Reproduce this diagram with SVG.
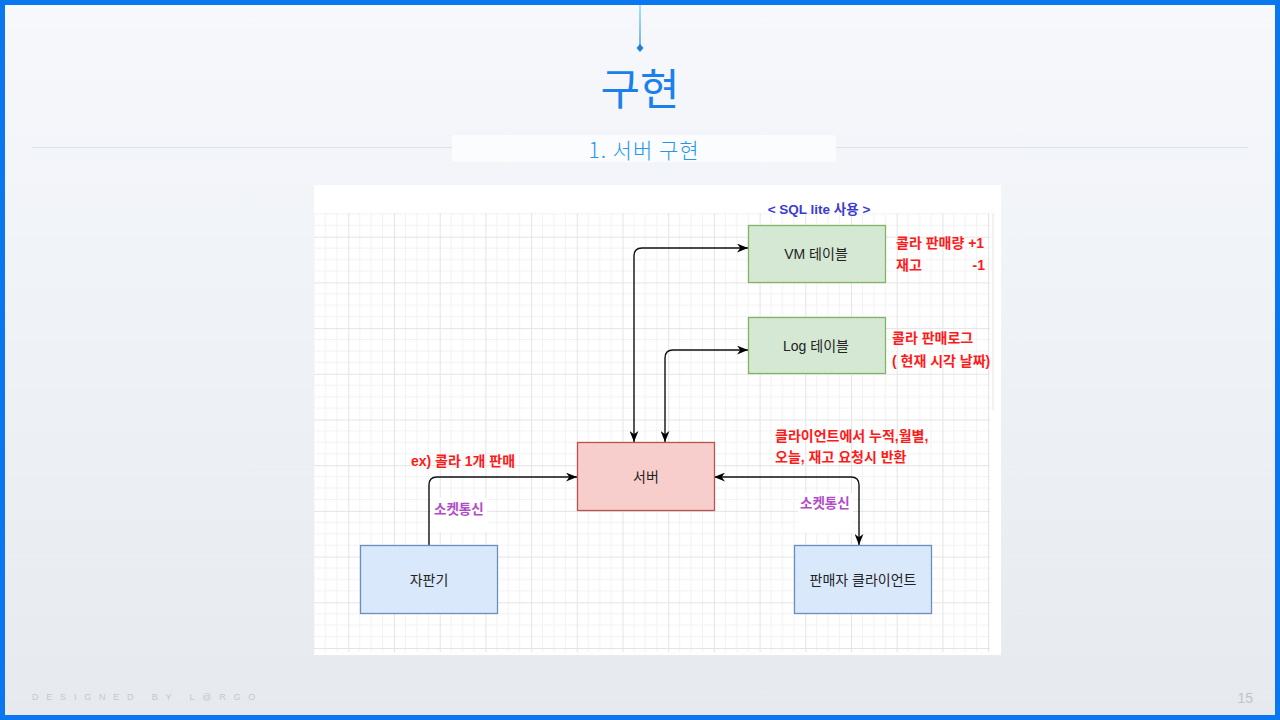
<svg xmlns="http://www.w3.org/2000/svg" width="1280" height="720" viewBox="0 0 1280 720">
<defs>
<linearGradient id="bg" x1="0" y1="0" x2="0" y2="1">
<stop offset="0" stop-color="#f6f8fc"/>
<stop offset="1" stop-color="#e6eaee"/>
</linearGradient>
<linearGradient id="vline" gradientUnits="userSpaceOnUse" x1="640" y1="5" x2="640" y2="48">
<stop offset="0" stop-color="#7cd0ff"/>
<stop offset="1" stop-color="#1a80e8"/>
</linearGradient>
<pattern id="grid" patternUnits="userSpaceOnUse" x="348.3" y="236.7" width="45.7" height="45.7">
<path d="M11.425,0V45.7M22.85,0V45.7M34.275,0V45.7M0,11.425H45.7M0,22.85H45.7M0,34.275H45.7" stroke="#f2f2f2" stroke-width="1" fill="none"/>
<path d="M0.5,0V45.7M0,0.5H45.7" stroke="#e4e4e4" stroke-width="1" fill="none"/>
</pattern>
<marker id="arr" viewBox="0 0 10 8" refX="10" refY="4" markerWidth="11" markerHeight="9" markerUnits="userSpaceOnUse" orient="auto-start-reverse">
<path d="M0,0 L10,4 L0,8 L3,4 Z" fill="#000"/>
</marker>
</defs>
<style>
.k{font-family:"Liberation Sans","Noto Sans CJK KR",sans-serif}
.node{font-size:14px;fill:#222;text-anchor:middle}
.red{font-size:14px;font-weight:bold;fill:#ff1a1a}
.pur{font-size:13.5px;font-weight:bold;fill:#b14bc8}
.conn{fill:none;stroke:#111;stroke-width:1.4}
</style>
<rect x="0" y="0" width="1280" height="720" fill="url(#bg)"/>
<rect x="2.5" y="2.5" width="1275" height="715" fill="none" stroke="#0a77f0" stroke-width="5"/>
<g id="header">
<rect x="639.4" y="5" width="1.2" height="42" fill="url(#vline)"/>
<path d="M640,44 L643.5,48 L640,52 L636.5,48 Z" fill="#1a80e8"/>
<text x="640" y="105" text-anchor="middle" font-family="'Noto Sans CJK KR',sans-serif" font-size="43" fill="#1a80ec">구현</text>
<line x1="32" y1="147.5" x2="1248" y2="147.5" stroke="#dde1e6" stroke-width="1"/>
<rect x="452" y="135" width="384" height="27" rx="3" fill="#fbfcfd"/>
<text x="644" y="158" text-anchor="middle" font-family="'Noto Sans CJK KR',sans-serif" font-weight="300" font-size="21" letter-spacing="1" fill="#2496f0">1. 서버 구현</text>
</g>
<g id="canvas">
<rect x="314" y="185" width="687" height="470" fill="#ffffff"/>
<rect x="314" y="213" width="676" height="439" fill="url(#grid)"/>
<line x1="993" y1="213" x2="993" y2="410" stroke="#e4e4e4" stroke-width="1"/>
</g>
<g id="connectors">
<path class="conn" d="M634,442 V256 Q634,248 642,248 H748" marker-start="url(#arr)" marker-end="url(#arr)"/>
<path class="conn" d="M665,442 V358 Q665,350 673,350 H748" marker-start="url(#arr)" marker-end="url(#arr)"/>
<path class="conn" d="M429,545 V485 Q429,477 437,477 H577" marker-end="url(#arr)"/>
<path class="conn" d="M714,477 H851 Q859,477 859,485 V545" marker-start="url(#arr)" marker-end="url(#arr)"/>
<rect x="431" y="498" width="56" height="34" fill="#ffffff"/>
<text class="k pur" x="434" y="514">소켓통신</text>
<rect x="798" y="493" width="55" height="40" fill="#ffffff"/>
<text class="k pur" x="800" y="508">소켓통신</text>
</g>
<g id="vm-table">
<rect x="748.5" y="225.5" width="137" height="57" fill="#d5e8d4" stroke="#82b366" stroke-width="1.3"/>
<text class="k node" x="816" y="259">VM 테이블</text>
</g>
<g id="log-table">
<rect x="748.5" y="317.5" width="137" height="56" fill="#d5e8d4" stroke="#82b366" stroke-width="1.3"/>
<text class="k node" x="816" y="351">Log 테이블</text>
</g>
<g id="server">
<rect x="577.5" y="442.5" width="137" height="68" fill="#f8cecc" stroke="#b85450" stroke-width="1.3"/>
<text class="k node" x="646" y="482">서버</text>
</g>
<g id="vending">
<rect x="360.5" y="545.5" width="137" height="68" fill="#dae8fc" stroke="#6c8ebf" stroke-width="1.3"/>
<text class="k node" x="429" y="585">자판기</text>
</g>
<g id="seller-client">
<rect x="794.5" y="545.5" width="137" height="68" fill="#dae8fc" stroke="#6c8ebf" stroke-width="1.3"/>
<text class="k node" x="863" y="585">판매자 클라이언트</text>
</g>
<g id="labels">
<text class="k" x="819" y="214" text-anchor="middle" font-size="13.5" font-weight="bold" fill="#3b3bcf">&lt; SQL lite 사용 &gt;</text>
<text class="k red" x="896" y="248">콜라 판매량 +1</text>
<text class="k red" x="896" y="270">재고</text>
<text class="k red" x="985" y="270" text-anchor="end">-1</text>
<text class="k red" x="892" y="343">콜라 판매로그</text>
<text class="k red" x="892" y="366">( 현재 시각 날짜)</text>
<text class="k red" x="775" y="441">클라이언트에서 누적,월별,</text>
<text class="k red" x="775" y="462">오늘, 재고 요청시 반환</text>
<text class="k red" x="411" y="466">ex) 콜라 1개 판매</text>
</g>
<g id="footer">
<text x="32" y="700" font-family="'Liberation Sans',sans-serif" font-size="9" letter-spacing="7.8" fill="#c4c8cc">DESIGNED BY L@RGO</text>
<text x="1253" y="703" text-anchor="end" font-family="'Liberation Sans',sans-serif" font-size="14" fill="#c0c4c8">15</text>
</g>
</svg>
